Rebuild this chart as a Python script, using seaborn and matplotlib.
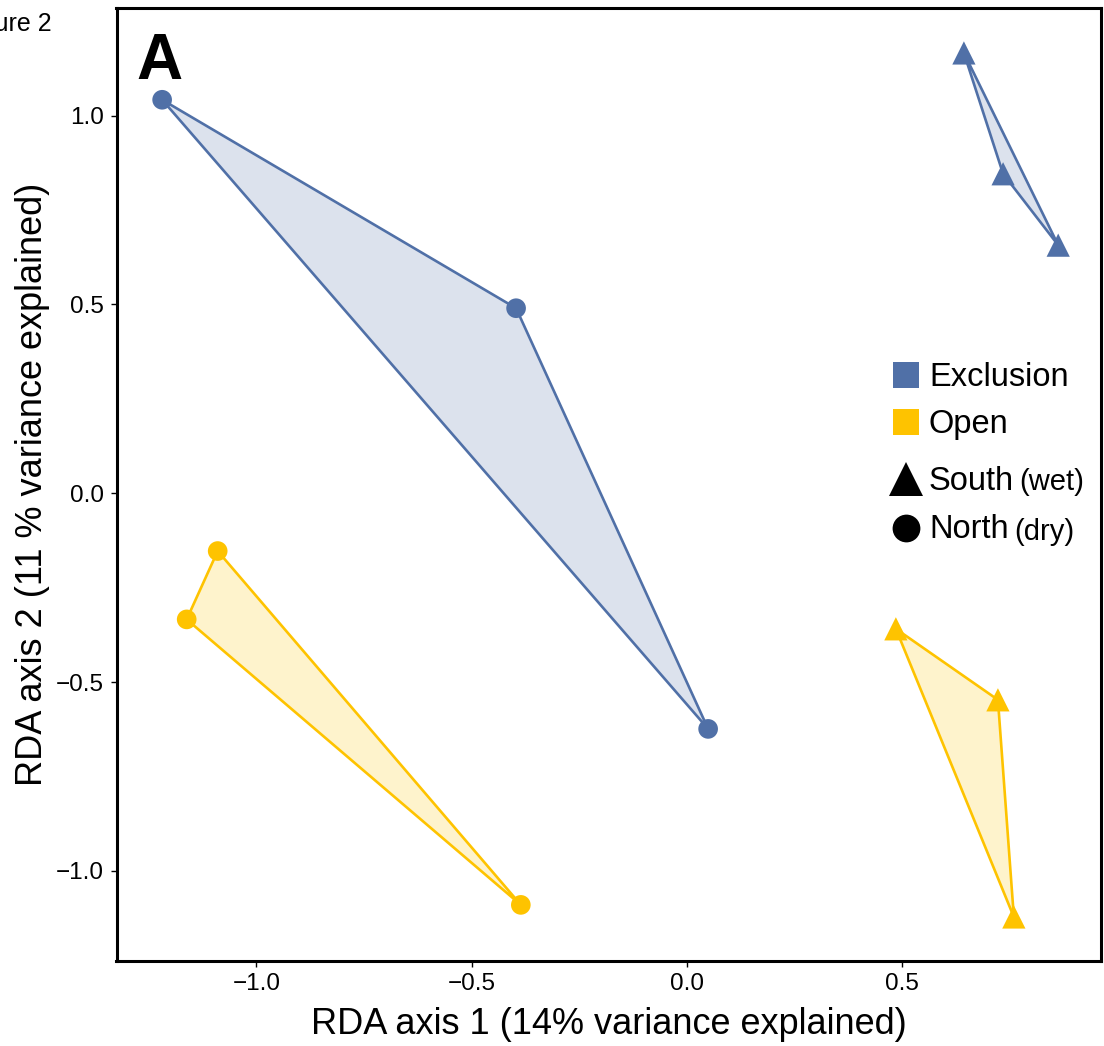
import matplotlib
matplotlib.use("Agg")
import matplotlib.pyplot as plt
import seaborn as sns
import pandas as pd
from matplotlib.lines import Line2D

sns.set_style("white")
plt.rcParams['font.family'] = ['Liberation Sans', 'DejaVu Sans']
plt.rcParams['text.color'] = 'black'
plt.rcParams['axes.labelcolor'] = 'black'
plt.rcParams['xtick.color'] = 'black'
plt.rcParams['ytick.color'] = 'black'

# Data (RDA site scores)
treatment = ["Exclusion"] * 6 + ["Open"] * 6
region = ["North", "North", "North", "South", "South", "South"] * 2
rda1 = [-1.219, -0.397, 0.049, 0.643, 0.734, 0.862,
        -1.090, -1.162, -0.386, 0.485, 0.722, 0.759]
rda2 = [1.042, 0.490, -0.624, 1.166, 0.846, 0.657,
        -0.153, -0.334, -1.090, -0.359, -0.547, -1.122]

df = pd.DataFrame({"treatment": treatment, "region": region,
                   "RDA1": rda1, "RDA2": rda2})

colors = {"Exclusion": "#5070A7", "Open": "#FEC300"}
markers = {"South": "^", "North": "o"}

fig = plt.figure(figsize=(11.04, 10.46), dpi=100)
ax = fig.add_axes([116.5 / 1104, 1 - 961 / 1046, (1101 - 116.5) / 1104, (961 - 8) / 1046])

# hulls
for (t, r), g in df.groupby(["treatment", "region"]):
    ax.fill(g["RDA1"], g["RDA2"], facecolor=colors[t], alpha=0.2, edgecolor="none", zorder=1)
    ax.fill(g["RDA1"], g["RDA2"], facecolor="none", edgecolor=colors[t], linewidth=1.9, zorder=2)

for r, s in [("North", 200), ("South", 280)]:
    sub = df[df["region"] == r]
    sns.scatterplot(data=sub, x="RDA1", y="RDA2", hue="treatment", palette=colors,
                    marker=markers[r], s=s, linewidth=0, ax=ax, legend=False, zorder=3)

ax.set_xlim(-1.325, 0.9614)
ax.set_ylim(-1.2386, 1.285)
ax.set_xticks([-1.0, -0.5, 0.0, 0.5])
ax.set_yticks([-1.0, -0.5, 0.0, 0.5, 1.0])
ax.set_xticklabels(["\u22121.0", "\u22120.5", "0.0", "0.5"])
ax.set_yticklabels(["\u22121.0", "\u22120.5", "0.0", "0.5", "1.0"])
ax.tick_params(axis="both", labelsize=17.5, length=4, width=1, color="black",
               labelcolor="black", direction="out", pad=5, bottom=True, left=True)
for sp in ax.spines.values():
    sp.set_color("black")
    sp.set_linewidth(2.2)

ax.set_xlabel("RDA axis 1 (14% variance explained)", fontsize=26, labelpad=8)
ax.set_ylabel("RDA axis 2 (11 % variance explained)", fontsize=26, labelpad=4)

ax.text(0.02, 0.975, "A", transform=ax.transAxes, fontsize=46, fontweight="bold",
        va="top", ha="left", color="black")
fig.text(52 / 1104, 1 - 31 / 1046, "Figure 2", fontsize=18, ha="right", va="baseline")

# custom legend
def ax_xy(px, py):
    return ((px - 116.5) / (1101 - 116.5), (961 - py) / (961 - 8))

items = [("s", colors["Exclusion"], 19, 375, "Exclusion", None),
         ("s", colors["Open"], 19, 422, "Open", None),
         ("^", "black", 25, 479, "South", "(wet)"),
         ("o", "black", 20, 528, "North", "(dry)")]
for mk, col, ms, py, lab, extra in items:
    x, y = ax_xy(906, py)
    ax.add_line(Line2D([x], [y], marker=mk, color=col, markersize=ms, linestyle="none",
                       markeredgewidth=0, transform=ax.transAxes, clip_on=False))
    tx, ty = ax_xy(929, py + 2)
    t = ax.text(tx, ty, lab, transform=ax.transAxes, fontsize=23.5, va="center", ha="left")
    if extra:
        ax.annotate(extra, xy=(1, 0), xycoords=t, xytext=(4, 0), textcoords="offset points",
                    fontsize=21, va="bottom", ha="left")

fig.savefig("out.png", dpi=100, facecolor="white")
